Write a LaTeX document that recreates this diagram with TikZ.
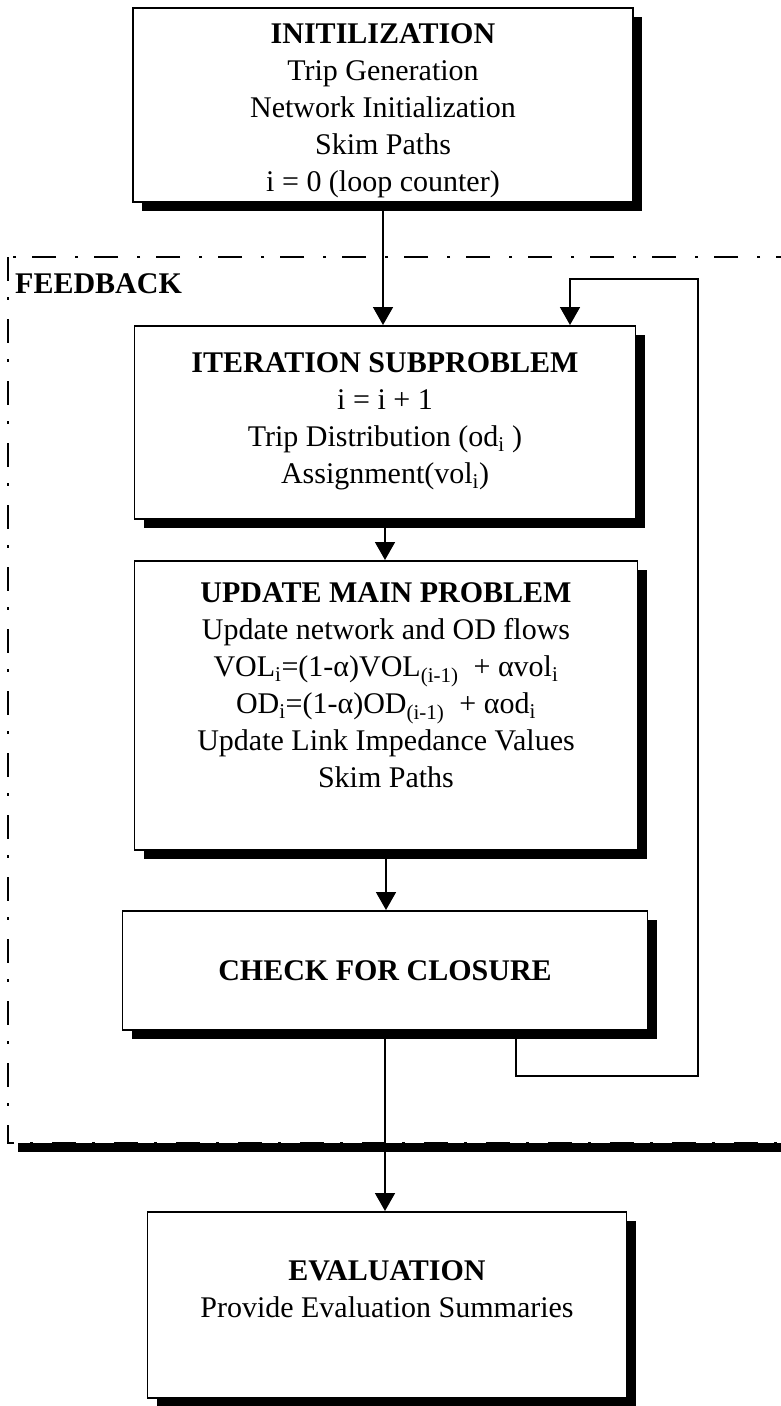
\documentclass[tikz,border=0pt]{standalone}
\usepackage{fontspec}
\setmainfont{Liberation Serif}
\usepackage{tikz}
\usetikzlibrary{arrows.meta,
                positioning,
                shadows}

\tikzset{
  flowbox/.style={draw, line width=1.6pt, fill=white, inner sep=0pt,
    drop shadow={shadow xshift=9pt, shadow yshift=-9pt, fill=black, opacity=1}},
  boxtext/.style={align=center, inner sep=0pt, font=\fontsize{30}{37}\selectfont},
  arr/.style={line width=1.6pt, -{Triangle[width=20pt,length=18pt]}}
}

\begin{document}
\begin{tikzpicture}[x=1pt,y=-1pt]
\useasboundingbox (0,0) rectangle (780,1406);

% feedback frame
\draw[line width=1.6pt, dash pattern=on 24pt off 16pt on 3pt off 19pt] (8,257) rectangle (820,1143);
\fill (18,1143) rectangle (820,1152);
\node[boxtext, anchor=north west] (fb) at (15,273) {\textbf{FEEDBACK}};

% boxes
\node[flowbox, minimum width=500pt, minimum height=194pt, anchor=north] (init) at (383,7) {};
\node[boxtext, anchor=north] (inittxt) at (383,23)
  {\textbf{INITILIZATION}\\Trip Generation\\Network Initialization\\Skim Paths\\i = 0 (loop counter)};

\node[flowbox, minimum width=501pt, minimum height=193pt, anchor=north] (iter) at (385,325) {};
\node[boxtext, anchor=north] (itertxt) at (385,352)
  {\textbf{ITERATION SUBPROBLEM}\\i = i + 1\\Trip Distribution (od\textsubscript{i} )\\Assignment(vol\textsubscript{i})};

\node[flowbox, minimum width=503pt, minimum height=289pt, anchor=north] (update) at (386,560) {};
\node[boxtext, anchor=north] (updatetxt) at (386,582)
  {\textbf{UPDATE MAIN PROBLEM}\\Update network and OD flows\\
   VOL\textsubscript{i}=(1-α)VOL\textsubscript{(i-1)}\ \ + αvol\textsubscript{i}\\
   OD\textsubscript{i}=(1-α)OD\textsubscript{(i-1)}\ \ + αod\textsubscript{i}\\
   Update Link Impedance Values\\Skim Paths};

\node[flowbox, boxtext, minimum width=525pt, minimum height=119pt, anchor=north] (check) at (385,910)
  {\textbf{CHECK FOR CLOSURE}};

\node[flowbox, minimum width=479pt, minimum height=186pt, anchor=north] (eval) at (387,1211) {};
\node[boxtext, anchor=north] (evaltxt) at (387,1260)
  {\textbf{EVALUATION}\\Provide Evaluation Summaries};

% connectors
\foreach \a/\b in {init/iter, iter/update, update/check, check/eval}
  \draw[arr] (\a.south) -- (\a.south |- \b.north);

\coordinate (back0) at (516,0);
\coordinate (back1) at (698,1076);
\coordinate (back2) at (570,279);
\draw[arr] (check.south -| back0) |- (back1) |- (back2) -- (back2 |- iter.north);
\end{tikzpicture}
\end{document}
